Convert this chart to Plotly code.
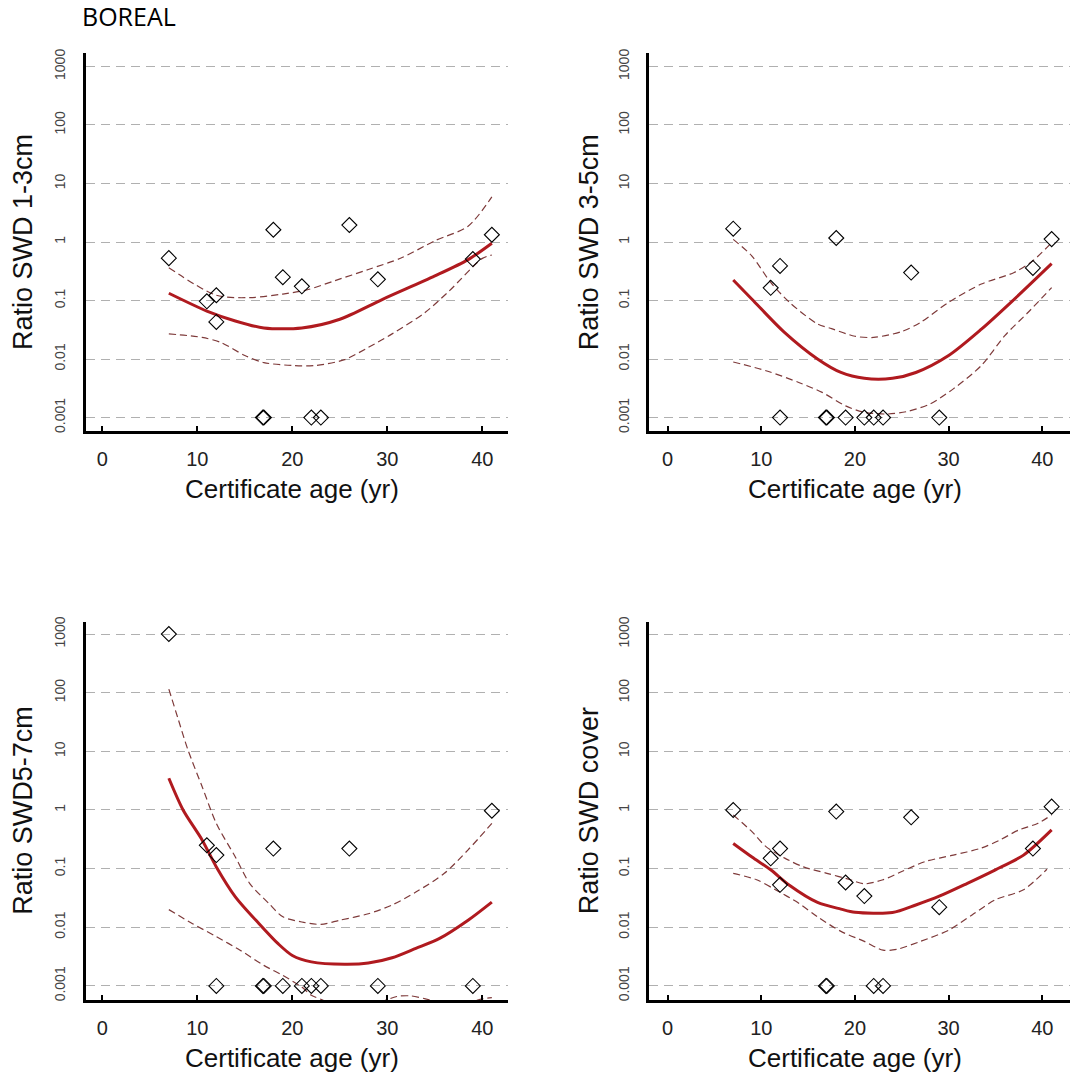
import plotly.graph_objects as go

# ---- observed ratios (zero values are shown at the 0.001 floor) ----
age_13 = [7, 11, 12, 12, 16.9, 17, 18, 19, 21, 22, 23, 26, 29, 39, 41]
ratio_13 = [0.53, 0.097, 0.123, 0.043, 0.001, 0.001, 1.62, 0.25, 0.175, 0.001, 0.001, 1.95, 0.23, 0.51, 1.33]

age_35 = [7, 11, 12, 12, 16.9, 17, 18, 19, 21, 22, 23, 26, 29, 39, 41]
ratio_35 = [1.69, 0.165, 0.39, 0.001, 0.001, 0.001, 1.17, 0.001, 0.001, 0.001, 0.001, 0.30, 0.001, 0.36, 1.12]

age_57 = [7, 11, 12, 12, 16.9, 17, 18, 19, 21, 22, 23, 26, 29, 39, 41]
ratio_57 = [1000, 0.25, 0.17, 0.001, 0.001, 0.001, 0.22, 0.001, 0.001, 0.001, 0.001, 0.22, 0.001, 0.001, 0.97]

age_cov = [7, 11, 12, 12, 16.9, 17, 18, 19, 21, 22, 23, 26, 29, 39, 41]
ratio_cov = [1.0, 0.15, 0.22, 0.053, 0.001, 0.001, 0.94, 0.058, 0.034, 0.001, 0.001, 0.75, 0.022, 0.22, 1.14]

# ---- fitted curves with confidence bands ----
fit_13_x = [7, 11, 14, 17, 21, 25, 29.5, 35, 38.5, 41]
fit_13_y = [0.133, 0.066, 0.0447, 0.0339, 0.0339, 0.0479, 0.105, 0.263, 0.50, 0.955]
up_13_x = [7, 12, 15.5, 19, 21.5, 24.5, 28, 31.5, 35, 38.5, 41]
up_13_y = [0.363, 0.123, 0.112, 0.129, 0.151, 0.219, 0.339, 0.537, 1.05, 1.86, 5.9]
lo_13_x = [7, 10.5, 12.5, 15, 17, 20, 22.5, 25.5, 28, 30.5, 34, 36.5, 40, 41]
lo_13_y = [0.0269, 0.0234, 0.0191, 0.0115, 0.0087, 0.00776, 0.00776, 0.00977, 0.0158, 0.0269, 0.063, 0.145, 0.525, 0.60]

fit_35_x = [7, 9, 12.5, 16, 18.5, 21, 24, 26.5, 30, 33.5, 37, 41]
fit_35_y = [0.224, 0.105, 0.0282, 0.0100, 0.00589, 0.00468, 0.00468, 0.00589, 0.0115, 0.0324, 0.105, 0.427]
up_35_x = [7, 9, 11, 13, 16, 17.5, 20, 22, 25, 27, 30, 33.5, 37, 39, 41]
up_35_y = [1.11, 0.575, 0.204, 0.0933, 0.0398, 0.0331, 0.0245, 0.0234, 0.0295, 0.0422, 0.0933, 0.191, 0.302, 0.479, 0.977]
lo_35_x = [7, 10.5, 14, 16.5, 19, 21, 23.5, 25.5, 28, 30.5, 33.5, 36, 38.5, 41]
lo_35_y = [0.00891, 0.00631, 0.00398, 0.00269, 0.00158, 0.00123, 0.00115, 0.00126, 0.0017, 0.00309, 0.00776, 0.0251, 0.0631, 0.166]

fit_57_x = [7, 8.5, 10.5, 12, 14, 16.5, 18.5, 20, 22, 25.5, 28, 30.5, 33, 35.5, 38.5, 41]
fit_57_y = [3.47, 1.0, 0.309, 0.107, 0.0331, 0.0115, 0.00525, 0.00331, 0.00257, 0.00234, 0.00245,
            0.00302, 0.00437, 0.00646, 0.0132, 0.0269]
up_57_x = [7, 8, 9, 10.5, 12, 14, 15.5, 17.5, 19, 21, 23, 25, 28, 30.5, 33, 36, 38.5, 41]
up_57_y = [115, 34.7, 10.7, 2.51, 0.589, 0.158, 0.0562, 0.0257, 0.0151, 0.0123, 0.0112, 0.0132, 0.0170,
           0.0240, 0.0398, 0.0832, 0.209, 0.589]
lo_57_x = [7, 9.5, 12, 14.5, 17, 19, 21, 22, 23.3, 24.5, 27, 29, 31, 32.5, 34, 36, 38, 40, 41]
lo_57_y = [0.02, 0.0115, 0.00692, 0.00407, 0.00224, 0.00151, 0.000955, 0.000692, 0.000562, 0.000398,
           0.000355, 0.000501, 0.000661, 0.000676, 0.000603, 0.000501, 0.000501, 0.000603, 0.000631]

fit_cov_x = [7, 9, 11, 13, 16, 18.5, 20, 24, 26.5, 29, 32, 35, 38, 41]
fit_cov_y = [0.269, 0.158, 0.0955, 0.052, 0.0265, 0.0204, 0.0180, 0.0178, 0.024, 0.0339, 0.0562, 0.0955, 0.17, 0.457]
up_cov_x = [7, 9, 10.5, 12.5, 14.5, 17, 19.5, 21, 23, 25, 27.5, 30.5, 33.5, 35.5, 37.5, 39.5, 41]
up_cov_y = [0.822, 0.427, 0.237, 0.151, 0.107, 0.0832, 0.0646, 0.055, 0.0646, 0.0891, 0.132, 0.17,
            0.224, 0.309, 0.457, 0.589, 0.822]
lo_cov_x = [7, 9.5, 11.5, 14, 16, 18.5, 21, 23, 24.5, 27, 30, 32.5, 35, 38, 40.5]
lo_cov_y = [0.0832, 0.0646, 0.0437, 0.0257, 0.0151, 0.00851, 0.00575, 0.00407, 0.00422, 0.00575,
            0.00891, 0.0162, 0.0295, 0.0437, 0.0977]

y_titles = ["Ratio SWD 1-3cm", "Ratio SWD 3-5cm", "Ratio SWD5-7cm", "Ratio SWD cover"]
x_title = "Certificate age (yr)"
y_tickvals = [0.001, 0.01, 0.1, 1, 10, 100, 1000]
y_ticktext = ["0.001", "0.01", "0.1", "1", "10", "100", "1000"]
x_tickvals = [0, 10, 20, 30, 40]
header = "BOREAL"

panels = [
    (age_13, ratio_13, fit_13_x, fit_13_y, up_13_x, up_13_y, lo_13_x, lo_13_y),
    (age_35, ratio_35, fit_35_x, fit_35_y, up_35_x, up_35_y, lo_35_x, lo_35_y),
    (age_57, ratio_57, fit_57_x, fit_57_y, up_57_x, up_57_y, lo_57_x, lo_57_y),
    (age_cov, ratio_cov, fit_cov_x, fit_cov_y, up_cov_x, up_cov_y, lo_cov_x, lo_cov_y),
]

W, H = 1070, 1078
# pixel boxes of the four plot areas: (left, right, top, bottom)
boxes = [(86, 508, 53, 431), (649.3, 1070, 53, 431),
         (86, 508, 621.7, 1000), (649.3, 1070, 621.7, 1000)]
x_ranges = [(-1.72, 42.7), (-1.96, 42.96), (-1.72, 42.7), (-1.96, 42.96)]
y_ranges = [(-3.23, 3.23), (-3.23, 3.23), (-3.24, 3.21), (-3.24, 3.21)]
y_title_off = [63, 60, 63, 60]

FIT_RED = "#b01a1f"
CI_COL = "#7e3a3a"
FONT = "Liberation Sans, Arial, sans-serif"

fig = go.Figure()
annotations = []

for i, (px, py, fx, fy, ux, uy, lx, ly) in enumerate(panels):
    k = "" if i == 0 else str(i + 1)
    xa, ya = "x" + k, "y" + k
    for cx, cy in ((ux, uy), (lx, ly)):
        fig.add_trace(go.Scatter(x=cx, y=cy, mode="lines", xaxis=xa, yaxis=ya,
                                 line=dict(color=CI_COL, width=1.2, dash="7px,4px", shape="spline",
                                           smoothing=0.8),
                                 showlegend=False, hoverinfo="skip"))
    fig.add_trace(go.Scatter(x=fx, y=fy, mode="lines", xaxis=xa, yaxis=ya,
                             line=dict(color=FIT_RED, width=3, shape="spline", smoothing=0.8),
                             showlegend=False))
    fig.add_trace(go.Scatter(x=px, y=py, mode="markers", xaxis=xa, yaxis=ya,
                             marker=dict(symbol="diamond-open", size=11.5, color="black",
                                         line=dict(width=1.1, color="black")),
                             showlegend=False, cliponaxis=False))

    l, r, t, b = boxes[i]
    xdom = [l / W, min(r / W, 1.0)]
    ydom = [(H - b) / H, (H - t) / H]
    fig.layout["xaxis" + k] = dict(
        domain=xdom, range=list(x_ranges[i]), anchor=ya, automargin=False,
        tickvals=x_tickvals, ticks="inside", ticklen=5, tickwidth=1.5, tickcolor="black",
        showline=True, linecolor="black", linewidth=3, showgrid=False, zeroline=False,
        tickfont=dict(family=FONT, size=20, color="#222"), ticklabelstandoff=8,
    )
    fig.layout["yaxis" + k] = dict(
        domain=ydom, type="log", range=list(y_ranges[i]), anchor=xa, automargin=False,
        tickvals=y_tickvals, ticktext=y_ticktext, tickangle=-90, ticks="",
        showline=True, linecolor="black", linewidth=3,
        showgrid=True, gridcolor="#b0b0b0", gridwidth=1, griddash="9px,6px",
        zeroline=False, tickfont=dict(family=FONT, size=14, color="#444"),
        ticklabelstandoff=12,
    )
    # axis titles
    annotations.append(dict(text=y_titles[i], xref="paper", yref="paper",
                            x=(l - y_title_off[i]) / W, y=(H - (t + b) / 2) / H,
                            xanchor="center", yanchor="middle", textangle=-90, showarrow=False,
                            font=dict(family=FONT, size=27, color="#111")))
    annotations.append(dict(text=x_title, xref="paper", yref="paper",
                            x=(l + 206) / W, y=(H - (b + 58)) / H,
                            xanchor="center", yanchor="middle", showarrow=False,
                            font=dict(family=FONT, size=26, color="#111")))

annotations.append(dict(text=header, xref="paper", yref="paper", x=80 / W, y=(H - 16) / H,
                        xanchor="left", yanchor="middle", showarrow=False,
                        font=dict(family="Open Sans, Noto Sans, sans-serif", size=25, color="black")))

fig.update_layout(width=W, height=H, margin=dict(l=0, r=0, t=0, b=0),
                  paper_bgcolor="white", plot_bgcolor="white",
                  annotations=annotations)

fig.write_html("out.html")
